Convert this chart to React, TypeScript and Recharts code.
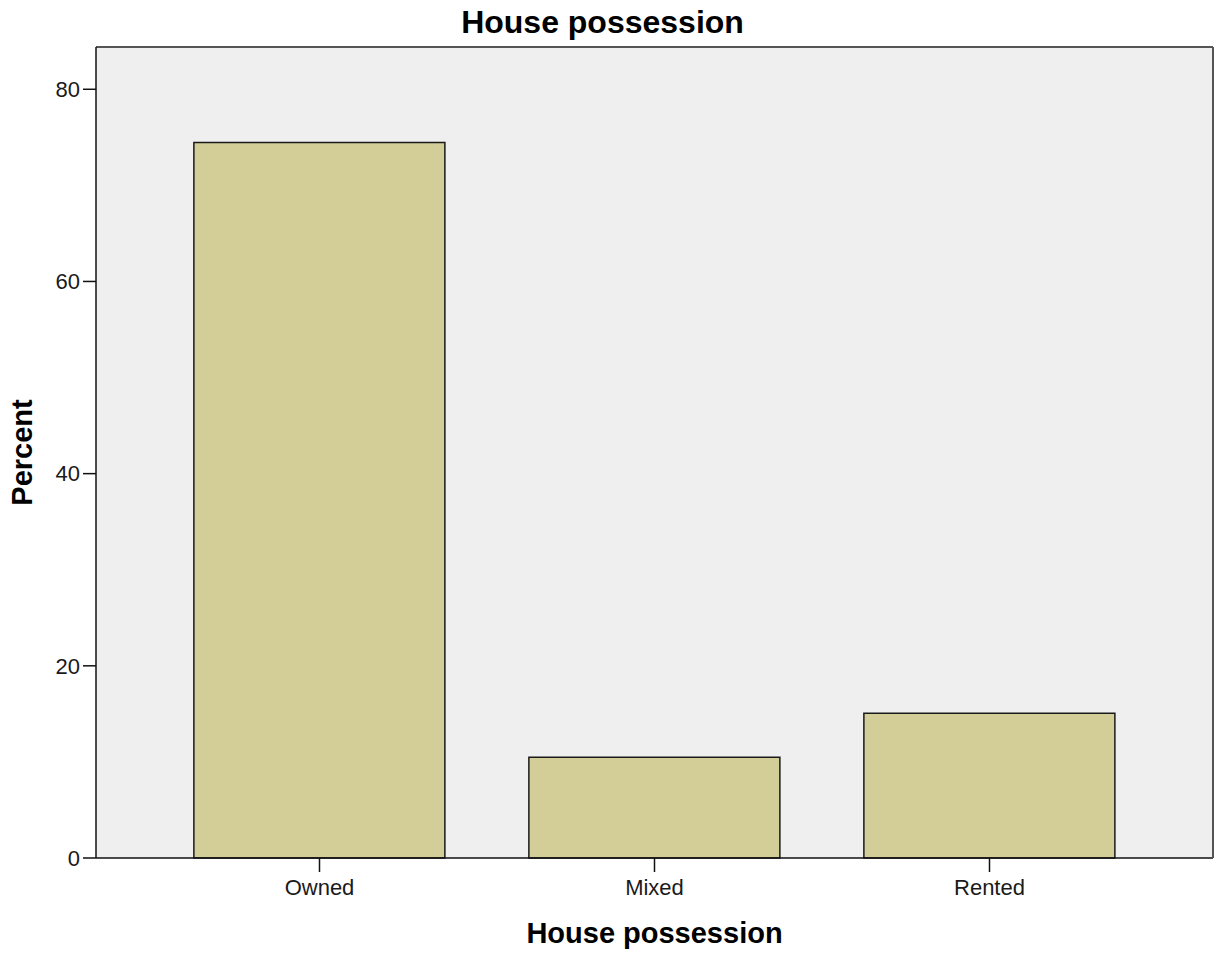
import React from "react";
import { BarChart, Bar, XAxis, YAxis, CartesianGrid } from "recharts";

const categories = ["Owned", "Mixed", "Rented"];
const percents = [74.45, 10.48, 15.07];
const yTicks = [0, 20, 40, 60, 80];

const data = categories.map((c, i) => ({ name: c, value: percents[i] }));

const FONT = "'Liberation Sans', Arial, sans-serif";

export default function App() {
  return (
    <div style={{ position: "absolute", left: 0, top: 0, width: 1217, height: 957, background: "#fff", fontFamily: FONT }}>
      <div
        style={{
          position: "absolute",
          left: 0,
          width: 1205,
          top: 4,
          textAlign: "center",
          fontSize: 32,
          fontWeight: "bold",
          color: "#000",
          lineHeight: "36px",
        }}
      >
        House possession
      </div>
      <BarChart
        width={1217}
        height={957}
        data={data}
        margin={{ top: 46, right: 3, bottom: 39, left: 0 }}
        barCategoryGap="12.5%"
      >
        <CartesianGrid fill="#EFEFEF" horizontal={false} vertical={false} />
        <XAxis
          dataKey="name"
          xAxisId="main"
          height={60}
          padding={{ left: 56, right: 56 }}
          tickSize={14}
          tickMargin={7}
          axisLine={{ stroke: "#111", strokeWidth: 1.5 }}
          tickLine={{ stroke: "#111", strokeWidth: 1.5 }}
          tick={{ fontSize: 22, fill: "#1a1a1a", fontFamily: FONT }}
          label={{
            value: "House possession",
            position: "insideBottom",
            offset: -25,
            style: { fontSize: 29, fontWeight: "bold", fill: "#000", fontFamily: FONT },
          }}
        />
        <XAxis
          xAxisId="top"
          dataKey="name"
          orientation="top"
          height={1}
          tick={false}
          tickLine={false}
          axisLine={{ stroke: "#555", strokeWidth: 2 }}
        />
        <YAxis
          yAxisId="main"
          width={96}
          domain={[0, 84.4]}
          ticks={yTicks}
          tickSize={13}
          tickMargin={3}
          axisLine={{ stroke: "#111", strokeWidth: 1.5 }}
          tickLine={{ stroke: "#111", strokeWidth: 1.5 }}
          tick={{ fontSize: 22, fill: "#1a1a1a", fontFamily: FONT }}
          label={{
            value: "Percent",
            angle: -90,
            position: "insideLeft",
            offset: 22,
            style: { fontSize: 29, fontWeight: "bold", fill: "#000", fontFamily: FONT, textAnchor: "middle" },
          }}
        />
        <YAxis
          yAxisId="right"
          orientation="right"
          width={1}
          domain={[0, 84.4]}
          tick={false}
          tickLine={false}
          axisLine={{ stroke: "#555", strokeWidth: 2 }}
        />
        <Bar
          dataKey="value"
          xAxisId="main"
          yAxisId="main"
          fill="#D3CD98"
          stroke="#1a1a1a"
          strokeWidth={1.5}
          isAnimationActive={false}
        />
      </BarChart>
    </div>
  );
}
